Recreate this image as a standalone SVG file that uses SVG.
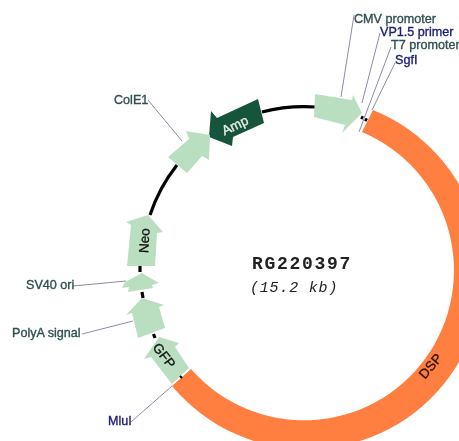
<svg xmlns="http://www.w3.org/2000/svg" width="459" height="441" viewBox="0 0 459 441">
<style>
.lb{font-family:"Liberation Sans",Arial,sans-serif;font-size:12.600px;stroke-width:.35px}
.g{fill:#2f4f4f;stroke:#2f4f4f}.n{fill:#1c1c78;stroke:#1c1c78}
.f{fill:#b9dfc0}
.ring{fill:none;stroke:#000;stroke-width:3.2}
.ld{fill:none;stroke:#8d8aa8;stroke-width:1}
.m{font-family:"Liberation Mono","Courier New",monospace;fill:#222}
.in{font-family:"Liberation Sans",Arial,sans-serif;font-size:13.500px;text-anchor:middle;stroke-width:.3px}
</style>
<defs><filter id="soft" x="0" y="0" width="100%" height="100%"><feGaussianBlur stdDeviation="0.4"/></filter></defs>
<rect width="459" height="441" fill="#fff"/>
<g filter="url(#soft)">
<g id="connectors">
<path class="ring" d="M262 112A165 165 0 0 1 316 107"/>
<path class="ring" d="M177 165A165 165 0 0 0 150 215"/>
<path class="ring" d="M140 266L140 272"/>
<path class="ring" d="M142 292L143 298"/>
<path class="ring" d="M153.500 334L155 338"/>
<path class="ring" d="M361 117L368 121" stroke-dasharray="2.500 2"/>
<path class="ld" d="M354 15L341 97"/>
<path class="ld" d="M380 33L362 103"/>
<path class="ld" d="M391 47L359 132"/>
<path class="ld" d="M395 63L372 110"/>
<path class="ld" d="M148 100L182 141"/>
<path class="ld" d="M73 286L126 281"/>
<path class="ld" d="M82 334L133 321"/>
<path class="ld" d="M131 422L172 386"/>
</g>
<g id="dsp">
<path d="M373 110A176 176 0 1 1 172 386L191 369A150 150 0 1 0 362 132Z" fill="#ff7f3f"/>
<text class="in" transform="translate(434 369) rotate(-50)" fill="#2a1208" stroke="#2a1208">DSP</text>
</g>
<g id="cmv"><path class="f" d="M315 94L352 100L353 95L362 113L342 133L345 125L314 117Z"/></g>
<g id="amp">
<path d="M258 99L264 123L233 137L232 146L209 137L211 111L217 118Z" fill="#16543a"/>
<text class="in" transform="translate(237 129.500) rotate(-26)" fill="#e8f0ea" stroke="#e8f0ea">Amp</text>
</g>
<g id="cole1"><path class="f" d="M168 157L187 173L202 156L209 160L210 135L186 131L189 139Z"/></g>
<g id="neo">
<path class="f" d="M127 266L155 266L157 233L163 232L148 215L126 222L131 225Z"/>
<text class="in" transform="translate(149 241) rotate(-87)" fill="#111" stroke="#111">Neo</text>
</g>
<g id="sv40"><path class="f" d="M142 273L159 283L152 285L153 288L128 292L129 287L122 288L125 282Z"/></g>
<g id="polya"><path class="f" d="M138 338L165 328L159 307L164 305L142 298L126 315L132 313Z"/></g>
<g id="gfp">
<path class="f" d="M172 384L189 368L175 347L179 343L159 337L144 359L151 357Z"/>
<path d="M180 376L182 378" stroke="#000" stroke-width="2"/>
<text class="in" transform="translate(160.500 358.500) rotate(52)" fill="#111" stroke="#111">GFP</text>
</g>
<g id="labels">
<text class="lb g" x="354" y="23">CMV promoter</text>
<text class="lb n" x="380" y="36">VP1.5 primer</text>
<text class="lb g" x="391" y="49">T7 promoter</text>
<text class="lb n" x="395" y="64">SgfI</text>
<text class="lb g" x="114" y="104">ColE1</text>
<text class="lb g" x="26" y="289">SV40 ori</text>
<text class="lb g" x="12" y="337">PolyA signal</text>
<text class="lb n" x="108" y="425">MluI</text>
<text class="m" x="252" y="269" font-size="18" font-weight="bold" letter-spacing="1.700">RG220397</text>
<text class="m" x="250" y="292" font-size="15" font-style="italic" letter-spacing="0.800">(15.2 kb)</text>
</g>
</g>
</svg>
